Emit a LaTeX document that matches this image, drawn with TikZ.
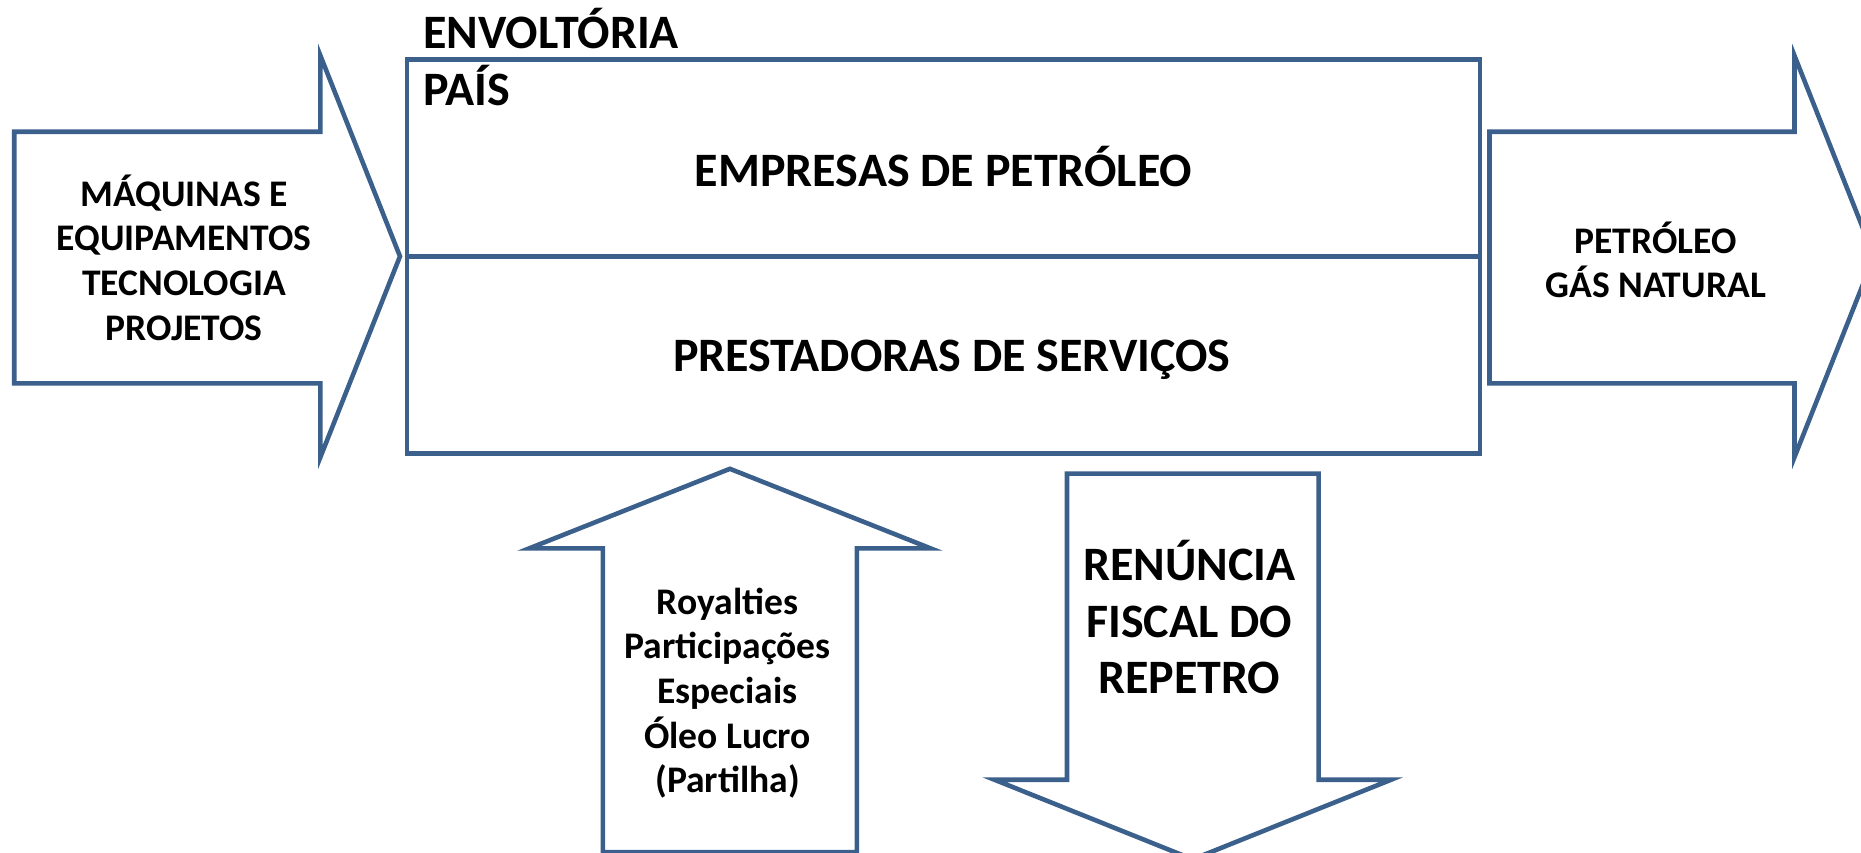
\documentclass[tikz,border=0pt]{standalone}
\usepackage{fontspec}
\setmainfont{Carlito}
\definecolor{arrowblue}{RGB}{60,96,140}

\tikzstyle{outline} = [draw=arrowblue, line width=1.1pt, line join=miter]
\tikzstyle{bigtext} = [inner sep=0pt, align=center, font=\bfseries\fontsize{11.5}{13.6}\selectfont]
\tikzstyle{smalltext} = [inner sep=0pt, align=center, font=\bfseries\fontsize{9}{10.7}\selectfont]

\begin{document}
\begin{tikzpicture}[x=0.01cm, y=-0.01cm]

\useasboundingbox (0,0) rectangle (1568,718.7);
\clip (0,0) rectangle (1568,718.7);

% block arrows
\draw[outline] (12,111) -- (270,111) -- (270,47) -- (337,216) -- (270,385) -- (270,323) -- (12,323) -- cycle;
\draw[outline] (1255,111) -- (1512,111) -- (1512,47) -- (1579,216) -- (1512,385) -- (1512,323) -- (1255,323) -- cycle;
\draw[outline] (508,718) -- (508,462) -- (446,462) -- (615,395) -- (784,462) -- (722,462) -- (722,718) -- cycle;
\draw[outline] (899,399) -- (1111,399) -- (1111,657) -- (1172,657) -- (1005,724) -- (838,657) -- (899,657) -- cycle;

% country box
\draw[outline] (343,50) rectangle (1247,216);
\draw[outline] (343,216) rectangle (1247,382);

\node (envoltoria) [bigtext, anchor=base west] at (356,41) {ENVOLTÓRIA};
\node (pais) [bigtext, anchor=base west] at (356,89) {PAÍS};
\node (empresas) [bigtext, anchor=base] at (795,157) {EMPRESAS DE PETRÓLEO};
\node (prestadoras) [bigtext, anchor=base] at (802,313) {PRESTADORAS DE SERVIÇOS};

\node (entrada) [smalltext] at (155,217) {MÁQUINAS E\\EQUIPAMENTOS\\TECNOLOGIA\\PROJETOS};
\node (saida) [smalltext] at (1395,219) {PETRÓLEO\\GÁS NATURAL};
\node (royalties) [smalltext] at (613,584) {Royalties\\Participações\\Especiais\\Óleo Lucro\\(Partilha)};
\node (renuncia) [bigtext] at (1002,520) {RENÚNCIA\\FISCAL DO\\REPETRO};

\end{tikzpicture}
\end{document}
